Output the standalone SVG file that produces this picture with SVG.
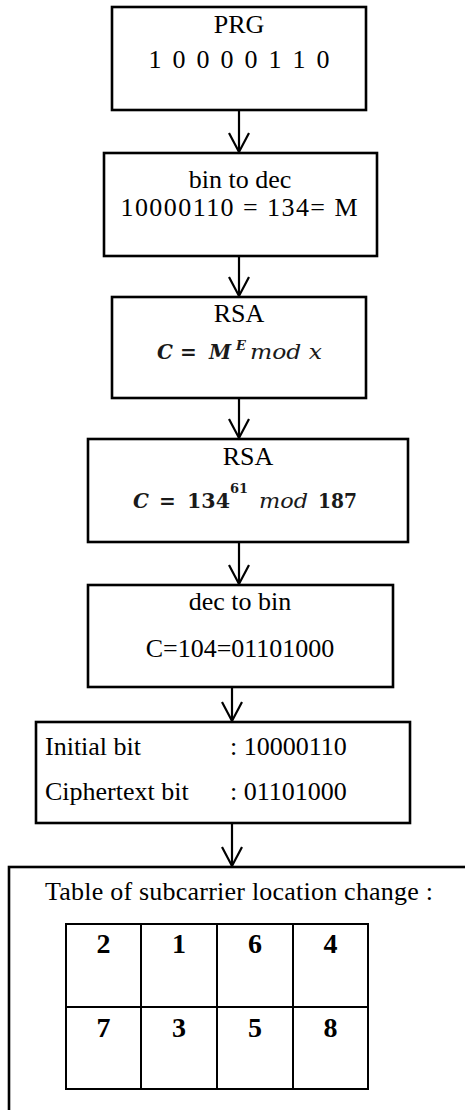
<svg xmlns="http://www.w3.org/2000/svg" width="465" height="1110" viewBox="0 0 465 1110">
<style>
.box{fill:#fff;stroke:#000;stroke-width:2.6}
text{font-family:'Liberation Serif','Times New Roman',Tinos,serif}
.t{font-size:26px;fill:#000}
.c{text-anchor:middle}
.m{font-family:'DejaVu Serif','Liberation Serif',serif;font-style:italic;fill:#1a1a1a}
.n{font-family:'DejaVu Serif','Liberation Serif',serif;font-weight:bold;fill:#1a1a1a}
.b{font-size:28px;font-weight:bold;text-anchor:middle;fill:#000}
.cell{fill:none;stroke:#000;stroke-width:2}
.con line,.con path{stroke:#000;stroke-width:2.2;fill:none}
</style>
<g id="n1">
<rect class="box" x="112" y="7" width="254" height="103"/>
<text class="t c" x="239" y="33">PRG</text>
<text class="t c" x="239" y="68" font-size="31" textLength="181" lengthAdjust="spacing">1 0 0 0 0 1 1 0</text>
</g>
<g id="n2">
<rect class="box" x="104" y="153" width="273" height="103"/>
<text class="t c" x="240" y="188">bin to dec</text>
<text class="t c" x="239" y="216" font-size="28" textLength="237" lengthAdjust="spacing">10000110 = 134= M</text>
</g>
<g id="n3">
<rect class="box" x="112" y="297" width="254" height="101"/>
<text class="t c" x="239" y="322">RSA</text>
<text class="m" x="157" y="359" font-size="20" font-weight="bold">C</text>
<text class="n" x="180" y="359" font-size="20">=</text>
<text class="m" x="209" y="359" font-size="20" font-weight="bold">M</text>
<text class="m" x="236" y="350" font-size="13" font-weight="bold">E</text>
<text class="m" x="250" y="359" font-size="20" textLength="72" lengthAdjust="spacingAndGlyphs">mod x</text>
</g>
<g id="n4">
<rect class="box" x="88" y="439" width="320" height="103"/>
<text class="t c" x="248" y="465">RSA</text>
<text class="m" x="133" y="508" font-size="20" font-weight="bold">C</text>
<text class="n" x="159" y="508" font-size="20">=</text>
<text class="n" x="187" y="508" font-size="20" textLength="43" lengthAdjust="spacingAndGlyphs">134</text>
<text class="n" x="230" y="493" font-size="13" font-weight="normal">61</text>
<text class="m" x="259" y="508" font-size="20" textLength="49" lengthAdjust="spacingAndGlyphs">mod</text>
<text class="n" x="318" y="508" font-size="20" font-weight="normal" textLength="39" lengthAdjust="spacingAndGlyphs">187</text>
</g>
<g id="n5">
<rect class="box" x="88" y="585" width="305" height="102"/>
<text class="t c" x="240" y="610">dec to bin</text>
<text class="t c" x="240" y="657" font-size="26.5">C=104=01101000</text>
</g>
<g id="n6">
<rect class="box" x="36" y="722" width="374" height="101"/>
<text class="t" x="45" y="755">Initial bit</text>
<text class="t" x="230" y="755">: 10000110</text>
<text class="t" x="45" y="800">Ciphertext bit</text>
<text class="t" x="230" y="800">: 01101000</text>
</g>
<g id="n7">
<rect class="box" x="9" y="867" width="470" height="260"/>
<text class="t" x="45" y="900" textLength="388" lengthAdjust="spacing">Table of subcarrier location change :</text>
<rect class="cell" x="66" y="924" width="302" height="165"/>
<line class="cell" x1="66" y1="1007" x2="368" y2="1007"/>
<line class="cell" x1="141" y1="924" x2="141" y2="1089"/>
<line class="cell" x1="217" y1="924" x2="217" y2="1089"/>
<line class="cell" x1="293" y1="924" x2="293" y2="1089"/>
<text class="b" x="103.5" y="953">2</text>
<text class="b" x="179" y="953">1</text>
<text class="b" x="255" y="953">6</text>
<text class="b" x="330.5" y="953">4</text>
<text class="b" x="103.5" y="1037">7</text>
<text class="b" x="179" y="1037">3</text>
<text class="b" x="255" y="1037">5</text>
<text class="b" x="330.5" y="1037">8</text>
</g>
<g id="connectors" class="con">
<line x1="239" y1="110" x2="239" y2="152"/><path d="M229,133 L239,152 L249,133"/>
<line x1="239" y1="256" x2="239" y2="296"/><path d="M229,277 L239,296 L249,277"/>
<line x1="239" y1="398" x2="239" y2="438"/><path d="M229,419 L239,438 L249,419"/>
<line x1="239" y1="542" x2="239" y2="584"/><path d="M229,565 L239,584 L249,565"/>
<line x1="232" y1="687" x2="232" y2="721"/><path d="M222,702 L232,721 L242,702"/>
<line x1="232" y1="823" x2="232" y2="866"/><path d="M222,847 L232,866 L242,847"/>
</g>
</svg>
